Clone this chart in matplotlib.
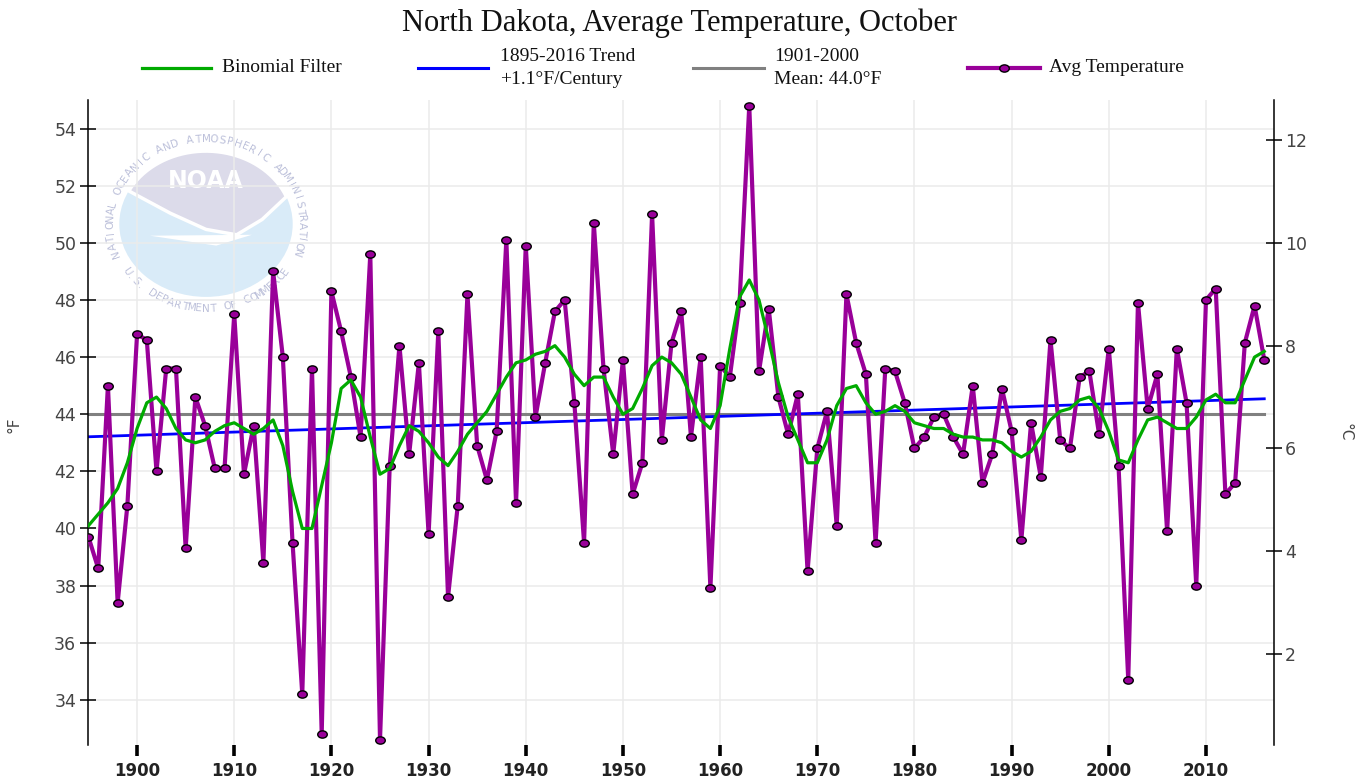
import numpy as np
import matplotlib
matplotlib.use('Agg')
import matplotlib.pyplot as plt
from matplotlib.lines import Line2D
from matplotlib.markers import MarkerStyle
from matplotlib.transforms import Affine2D
from matplotlib.patches import Ellipse, Polygon

W, H = 1364, 783

# data (deg F, October, 1895-2016)
first_year, last_year = 1895, 2016
years = np.arange(first_year, last_year + 1)
avg_temp = [
    39.7, 38.6, 45.0, 37.4, 40.8, 46.8, 46.6, 42.0, 45.6, 45.6,  # 1895-1904
    39.3, 44.6, 43.6, 42.1, 42.1, 47.5, 41.9, 43.6, 38.8, 49.0,  # 1905-1914
    46.0, 39.5, 34.2, 45.6, 32.8, 48.3, 46.9, 45.3, 43.2, 49.6,  # 1915-1924
    32.6, 42.2, 46.4, 42.6, 45.8, 39.8, 46.9, 37.6, 40.8, 48.2,  # 1925-1934
    42.9, 41.7, 43.4, 50.1, 40.9, 49.9, 43.9, 45.8, 47.6, 48.0,  # 1935-1944
    44.4, 39.5, 50.7, 45.6, 42.6, 45.9, 41.2, 42.3, 51.0, 43.1,  # 1945-1954
    46.5, 47.6, 43.2, 46.0, 37.9, 45.7, 45.3, 47.9, 54.8, 45.5,  # 1955-1964
    47.7, 44.6, 43.3, 44.7, 38.5, 42.8, 44.1, 40.1, 48.2, 46.5,  # 1965-1974
    45.4, 39.5, 45.6, 45.5, 44.4, 42.8, 43.2, 43.9, 44.0, 43.2,  # 1975-1984
    42.6, 45.0, 41.6, 42.6, 44.9, 43.4, 39.6, 43.7, 41.8, 46.6,  # 1985-1994
    43.1, 42.8, 45.3, 45.5, 43.3, 46.3, 42.2, 34.7, 47.9, 44.2,  # 1995-2004
    45.4, 39.9, 46.3, 44.4, 38.0, 48.0, 48.4, 41.2, 41.6, 46.5,  # 2005-2014
    47.8, 45.9,                                                  # 2015-2016
]
binomial = [
    40.1, 40.5, 40.9, 41.4, 42.3, 43.5, 44.4, 44.6, 44.2, 43.5,
    43.1, 43.0, 43.1, 43.4, 43.6, 43.7, 43.5, 43.3, 43.5, 43.8,
    42.9, 41.3, 40.0, 40.0, 41.5, 43.0, 44.9, 45.2, 44.6, 43.2,
    41.9, 42.1, 42.9, 43.6, 43.4, 43.0, 42.5, 42.2, 42.7, 43.3,
    43.7, 44.1, 44.7, 45.3, 45.8, 45.9, 46.1, 46.2, 46.4, 46.0,
    45.4, 45.0, 45.3, 45.3, 44.6, 44.0, 44.2, 44.9, 45.7, 46.0,
    45.8, 45.4, 44.6, 43.8, 43.5, 44.3, 46.3, 48.1, 48.7, 48.0,
    46.6, 45.1, 43.9, 43.1, 42.3, 42.3, 43.1, 44.3, 44.9, 45.0,
    44.4, 44.0, 44.1, 44.3, 44.1, 43.7, 43.6, 43.5, 43.5, 43.3,
    43.2, 43.2, 43.1, 43.1, 43.0, 42.7, 42.5, 42.7, 43.2, 43.8,
    44.1, 44.2, 44.5, 44.6, 44.2, 43.4, 42.4, 42.3, 43.1, 43.8,
    43.9, 43.7, 43.5, 43.5, 43.9, 44.5, 44.7, 44.4, 44.4, 45.2,
    46.0, 46.2,
]
trend_years = [1895, 2016]
trend_vals = [43.21, 44.54]
mean_years = [1895, 2016]
mean_val = 44.0

decade_ticks = list(range(1900, 2011, 10))
f_ticks = list(range(34, 55, 2))
c_ticks = list(range(2, 13, 2))

title = 'North Dakota, Average Temperature, October'
legend_labels = ['Binomial Filter', '1895-2016 Trend\n+1.1°F/Century',
                 '1901-2000\nMean: 44.0°F', 'Avg Temperature']

C_AVG = '#990099'
C_FILT = '#00aa00'
C_TREND = '#0000ff'
C_MEAN = '#808080'
SERIF = ['Liberation Serif', 'DejaVu Serif']


def fx(x):
    return x / W


def fy(y):
    return 1 - y / H


fig = plt.figure(figsize=(W / 100, H / 100), dpi=100)
fig.patch.set_facecolor('white')

# faded NOAA watermark behind the data
lg = fig.add_axes([fx(104), fy(314), 204 / W, 180 / H])
lg.set_xlim(-1, 1)
lg.set_ylim(-1, 1)
lg.axis('off')
lg.set_zorder(0)
lg.add_patch(Ellipse((0, 0), 1.70, 1.62, fc='#d9ebf8', ec='none'))
ang = np.deg2rad(np.linspace(153, 22, 40))
top = list(zip(0.85 * np.cos(ang), 0.81 * np.sin(ang)))
top += [(0.55, 0.05), (0.3, -0.12), (0.0, -0.06), (-0.35, 0.12)]
lg.add_patch(Polygon(top, closed=True, fc='#dcdbea', ec='white', lw=2.5))
lg.add_patch(Polygon([(-0.55, -0.13), (0.45, -0.12), (0.1, -0.24)],
                     closed=True, fc='white', ec='none'))
lg.text(0, 0.48, 'NOAA', ha='center', va='center', color='white',
        fontsize=17, fontweight='bold')


def ring_text(s, a0, a1, r, rot_off):
    for ch, a in zip(s, np.linspace(a0, a1, len(s))):
        t = np.deg2rad(a)
        lg.text(r * np.cos(t), r * np.sin(t), ch, rotation=a + rot_off,
                ha='center', va='center', fontsize=7.5, color='#bcc0da',
                rotation_mode='anchor')


ring_text('NATIONAL OCEANIC AND ATMOSPHERIC ADMINISTRATION', 200, -20, 0.94, -90)
ring_text('U.S. DEPARTMENT OF COMMERCE', 214, 326, 0.94, 90)

# main axes
ax = fig.add_axes([fx(88), fy(745), fx(1274) - fx(88), fy(100) - fy(745)])
ax.set_zorder(1)
ax.patch.set_visible(False)

ax.plot(mean_years, [mean_val, mean_val], color=C_MEAN, lw=2.2, zorder=2)
ax.plot(trend_years, trend_vals, color=C_TREND, lw=2.0, zorder=2.5)
mk = MarkerStyle('o', transform=Affine2D().scale(1.25, 0.95))
ax.plot(years, avg_temp, color=C_AVG, lw=3.0, marker=mk, ms=5.5,
        mfc=C_AVG, mec='black', mew=1.0, zorder=3)
ax.plot(years, binomial, color=C_FILT, lw=2.3, zorder=4)

ax.set_xlim(1894.95, 2017.0)
ax.set_ylim(32.42, 55.0)
ax.set_xticks(decade_ticks)
ax.set_xticklabels([str(d) for d in decade_ticks], fontweight='bold')
ax.set_yticks(f_ticks)
ax.set_yticklabels([str(v) for v in f_ticks])
ax.grid(True, color='#ebebeb', lw=1.1)
ax.set_axisbelow(True)
for s in ['top', 'bottom', 'right']:
    ax.spines[s].set_visible(False)
ax.spines['left'].set_linewidth(1.1)
ax.tick_params(axis='x', direction='out', length=8, width=2.6, pad=4,
               labelsize=12, labelcolor='#222222')
ax.tick_params(axis='y', direction='inout', length=12, width=1.1, pad=2.5,
               labelsize=12.5, labelcolor='#444444')

ax2 = ax.twinx()
ax2.set_zorder(1.5)
ax2.set_ylim((32.42 - 32) * 5 / 9, (55.0 - 32) * 5 / 9)
ax2.set_yticks(c_ticks)
ax2.set_yticklabels([str(v) for v in c_ticks])
for s in ['top', 'bottom', 'left']:
    ax2.spines[s].set_visible(False)
ax2.spines['right'].set_linewidth(1.1)
ax2.tick_params(axis='y', direction='inout', length=12, width=1.1, pad=2,
                labelsize=12.5, labelcolor='#444444')

fig.text(fx(14), fy(425), '°F', rotation=90, ha='center', va='center',
         fontsize=11, color='#444444')
fig.text(fx(1345), fy(432), '°C', rotation=-90, ha='center', va='center',
         fontsize=11, color='#444444')

# title and legend strip
fig.text(fx(680), fy(23), title, ha='center', va='center', fontsize=22,
         family=SERIF, color='#111111')

handles = [(142, 211, C_FILT, 2.3, None), (418, 488, C_TREND, 2.2, None),
           (693, 764, C_MEAN, 2.2, None), (968, 1040, C_AVG, 3.0, mk)]
text_x = [222, 500, 774, 1049]
leg_y = 68
for (x0, x1, c, lw, m), tx, lab in zip(handles, text_x, legend_labels):
    fig.add_artist(Line2D([fx(x0), fx(x1)], [fy(leg_y), fy(leg_y)],
                          transform=fig.transFigure, color=c, lw=lw))
    if m is not None:
        fig.add_artist(Line2D([fx((x0 + x1) / 2)], [fy(leg_y)],
                              transform=fig.transFigure, ls='none', marker=m,
                              ms=5.5, mfc=c, mec='black', mew=1.0))
    fig.text(fx(tx), fy(leg_y), lab, ha='left', va='center', fontsize=14,
             family=SERIF, color='#111111', linespacing=1.4)

fig.savefig('out.png', dpi=100, facecolor='white')
